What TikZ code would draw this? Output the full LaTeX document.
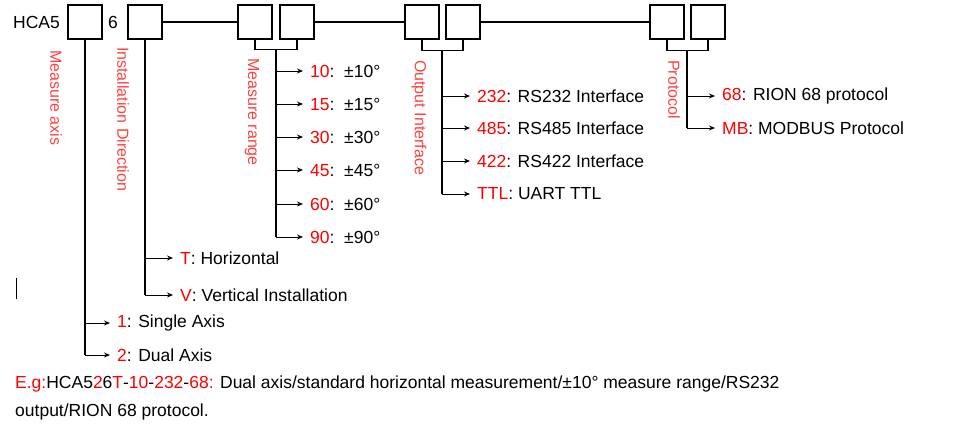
\documentclass[tikz,border=0pt]{standalone}
\usepackage{fontspec}
\setmainfont{Liberation Sans}
\usetikzlibrary{arrows.meta}
\begin{document}
\begin{tikzpicture}[x=1pt,y=-1pt,
  box/.style={draw,line width=1.3pt,minimum width=34pt,minimum height=34pt,inner sep=0pt},
  ln/.style={line width=1.3pt},
  arr/.style={line width=0.9pt,-{Stealth[length=6pt,width=5pt]},shorten >=7pt},
  lab/.style={anchor=west,font=\fontsize{17.5}{20}\selectfont,inner sep=0pt},
  vlab/.style={rotate=-90,anchor=west,font=\fontsize{16}{17}\selectfont,text=red!75!white,inner sep=0pt}]
\useasboundingbox (0,0) rectangle (962,432);
\definecolor{rd}{RGB}{255,0,0}
\node[lab] (hca) at (13,22) {HCA5};
\node[box] (b1) at (85,22) {};
\node[lab] (six) at (108,22) {6};
\node[box] (b2) at (145,22) {};
\node[box] (b3) at (255,22) {};
\node[box] (b4) at (297,22) {};
\node[box] (b5) at (422,22) {};
\node[box] (b6) at (463,22) {};
\node[box] (b7) at (667,22) {};
\node[box] (b8) at (708,22) {};
\draw[ln] (b2.east) -- (b3.west);
\draw[ln] (b4.east) -- (b5.west);
\draw[ln] (b6.east) -- (b7.west);
% measure axis
\node[vlab] at (56,50) {Measure axis};
\coordinate (s1) at (85,355);
\draw[ln] (b1.south) -- (s1);
\node[lab] (a1) at (117,323) {\textcolor{rd}{1}: Single Axis};
\node[lab] (a2) at (117,355) {\textcolor{rd}{2}: Dual Axis};
\draw[arr] (85,323) -- (a1.west);
\draw[arr] (s1) -- (a2.west);
% installation
\node[vlab] at (123,47) {Installation Direction};
\coordinate (s2) at (145,295);
\draw[ln] (b2.south) -- (s2);
\node[lab] (t1) at (180,258) {\textcolor{rd}{T}: Horizontal};
\node[lab] (t2) at (180,295) {\textcolor{rd}{V}: Vertical Installation};
\draw[arr] (145,258) -- (t1.west);
\draw[arr] (s2) -- (t2.west);
% measure range
\node[vlab] at (252,58) {Measure range};
\draw[ln] (b3.south) -- ++(0,10) -| (b4.south);
\coordinate (s3) at (276,237);
\draw[ln] (276,49) -- (s3);
\foreach \v/\y in {10/71,15/104,30/137,45/170,60/204,90/237}{
  \node[lab] (r\v) at (310,\y) {\textcolor{rd}{\v}:\ \ ±\v°};
  \draw[arr] (276,\y) -- (r\v.west);
}
% output
\node[vlab] at (419,60) {Output Interface};
\draw[ln] (b5.south) -- ++(0,11) -| (b6.south);
\draw[ln] (442,50) -- (442,194);
\node[lab] (o1) at (477,96) {\textcolor{rd}{232}: RS232 Interface};
\node[lab] (o2) at (477,128) {\textcolor{rd}{485}: RS485 Interface};
\node[lab] (o3) at (477,161) {\textcolor{rd}{422}: RS422 Interface};
\node[lab] (o4) at (477,194) {\textcolor{rd}{TTL}: UART TTL};
\foreach \n/\y in {o1/96,o2/128,o3/161,o4/194}{\draw[arr] (442,\y) -- (\n.west);}
% protocol
\node[vlab] at (674,60) {Protocol};
\draw[ln] (b7.south) -- ++(0,11) -| (b8.south);
\draw[ln] (687,50) -- (687,128);
\node[lab] (p1) at (722,96) {\textcolor{rd}{68}: RION 68 protocol};
\node[lab] (p2) at (722,128) {\textcolor{rd}{MB}: MODBUS Protocol};
\draw[arr] (687,96) -- (p1.west);
\draw[arr] (687,128) -- (p2.west);
% cursor bar
\draw[line width=1pt] (16,278) -- (16,299);
% example
\node[lab] (eg) at (15,384) {\textcolor{rd}{E.g:}HCA5\textcolor{rd}{2}6\textcolor{rd}{T}-\textcolor{rd}{10}-\textcolor{rd}{232}-\textcolor{rd}{68:} Dual axis/standard horizontal measurement/±10° measure range/RS232};
\node[lab] (eg2) at (15,412) {output/RION 68 protocol.};
\end{tikzpicture}
\end{document}
